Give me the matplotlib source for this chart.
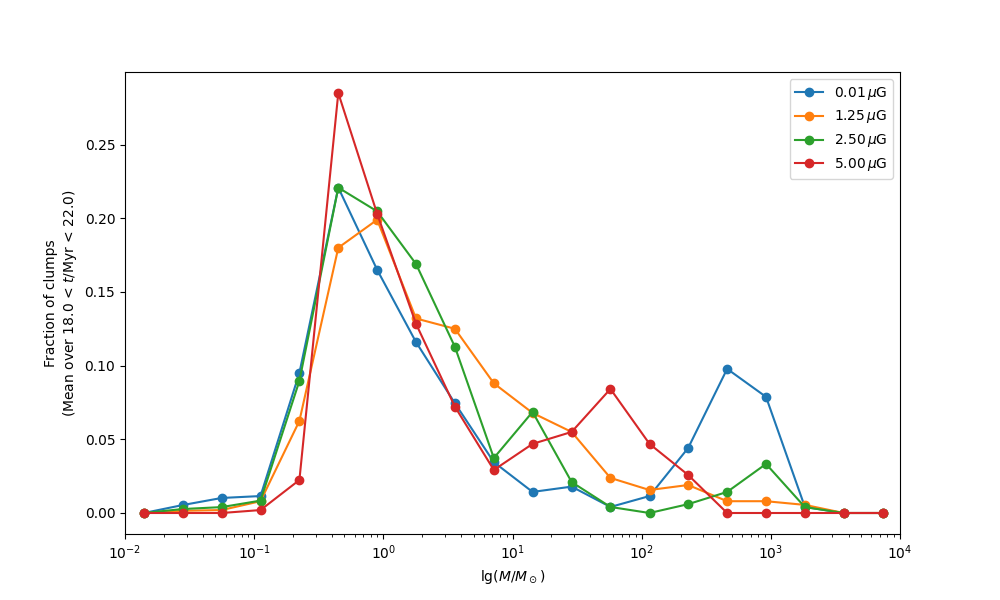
import matplotlib
matplotlib.use('Agg')
import matplotlib.pyplot as plt
import numpy as np

# mass bin centres (Msun)
mass = [0.014, 0.028, 0.056, 0.112, 0.224, 0.448, 0.896, 1.79, 3.58, 7.17,
        14.3, 28.7, 57.3, 115, 229, 459, 918, 1835, 3670, 7340]

frac_001 = [0.0, 0.0054, 0.0102, 0.0115, 0.0951, 0.2208, 0.165, 0.116, 0.0745, 0.0345,
            0.0143, 0.0179, 0.0041, 0.0115, 0.0441, 0.0978, 0.0788, 0.0041, 0.0, 0.0]
frac_125 = [0.0, 0.0015, 0.002, 0.008, 0.0625, 0.180, 0.199, 0.132, 0.125, 0.088,
            0.0679, 0.055, 0.0238, 0.0156, 0.019, 0.008, 0.008, 0.0055, 0.0, 0.0]
frac_250 = [0.0, 0.0027, 0.004, 0.0084, 0.0897, 0.2208, 0.2047, 0.169, 0.1128, 0.0373,
            0.0686, 0.021, 0.0041, 0.0, 0.006, 0.0143, 0.0333, 0.004, 0.0, 0.0]
frac_500 = [0.0, 0.0, 0.0, 0.002, 0.0224, 0.285, 0.203, 0.1284, 0.0722, 0.0292,
            0.0469, 0.055, 0.0842, 0.0469, 0.0258, 0.0, 0.0, 0.0, 0.0, 0.0]

labels = [r'0.01$\,\mu$G', r'1.25$\,\mu$G', r'2.50$\,\mu$G', r'5.00$\,\mu$G']

fig, ax = plt.subplots(figsize=(10, 6), dpi=100)
for y, lab in zip([frac_001, frac_125, frac_250, frac_500], labels):
    ax.plot(mass, y, 'o-', label=lab)

ax.set_xscale('log')
ax.set_xlim(1e-2, 1e4)
ax.set_xlabel(r'lg$(M/M_\odot)$')
ax.set_ylabel('Fraction of clumps\n(Mean over 18.0 < $t$/Myr < 22.0)')
ax.legend(loc='upper right')

fig.savefig('out.png')
